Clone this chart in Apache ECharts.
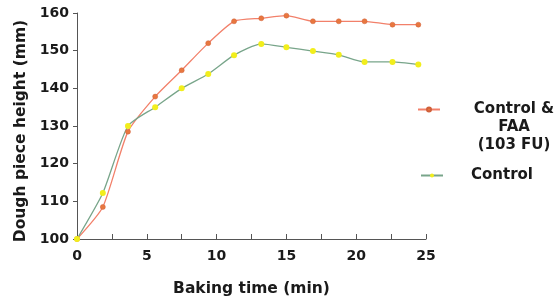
<!DOCTYPE html>
<html>
<head>
<meta charset="utf-8">
<script src="https://cdn.jsdelivr.net/npm/echarts@6/dist/echarts.min.js"></script>
<style>
  html, body { margin: 0; padding: 0; background: #fff; }
  #chart { width: 554px; height: 300px; }
</style>
</head>
<body>
<div id="chart"></div>
<script>
// baking time (min)
var times = [0, 1.85, 3.65, 5.6, 7.5, 9.4, 11.25, 13.2, 15, 16.9, 18.75, 20.6, 22.6, 24.45];
// dough piece height (mm)
var faaHeight = [100, 108.5, 128.5, 137.8, 144.8, 152, 157.8, 158.6, 159.3, 157.8, 157.8, 157.8, 156.9, 156.9];
var controlHeight = [100, 112.2, 130, 135, 140, 143.8, 148.8, 151.8, 150.9, 149.9, 148.9, 147, 147, 146.3];
var faaName = 'Control & FAA (103 FU)';
var controlName = 'Control';

function pairs(xs, ys) {
  var out = [];
  for (var i = 0; i < xs.length; i++) {
    out.push([xs[i], ys[i]]);
  }
  return out;
}

var font = 'DejaVu Sans';
var myChart = echarts.init(document.getElementById('chart'));

var option = {
  animation: false,
  grid: { left: 77, right: 128, top: 13, bottom: 61, outerBoundsMode: 'none', containLabel: false },
  legend: [{
    data: [faaName],
    left: 412,
    top: 97,
    itemWidth: 22,
    itemHeight: 5,
    selectedMode: false,
    formatter: function () {
      return '{a|Control &}\n{a|FAA}\n{a|(103 FU)}';
    },
    textStyle: {
      padding: [36, 0, 0, 23],
      rich: {
        a: { width: 92, align: 'center', fontFamily: font, fontWeight: 'bold', fontSize: 15, color: '#1a1a1a', lineHeight: 18 }
      }
    }
  }, {
    data: [controlName],
    left: 415,
    top: 163,
    itemWidth: 22,
    itemHeight: 5,
    selectedMode: false,
    textStyle: {
      padding: [0, 0, 4, 23],
      fontFamily: font, fontWeight: 'bold', fontSize: 15, color: '#1a1a1a'
    }
  }],
  xAxis: {
    type: 'value',
    min: 0,
    max: 25,
    interval: 2.5,
    name: 'Baking time (min)',
    nameLocation: 'middle',
    nameGap: 42,
    nameTextStyle: { fontFamily: font, fontWeight: 'bold', fontSize: 15.5, color: '#1a1a1a' },
    axisLine: { onZero: false, lineStyle: { color: '#555', width: 1 } },
    axisTick: { inside: true, length: 5, lineStyle: { color: '#555' } },
    axisLabel: {
      margin: 10,
      fontFamily: font, fontWeight: 'bold', fontSize: 14, color: '#1a1a1a',
      formatter: function (v) { return v % 5 === 0 ? String(v) : ''; }
    },
    splitLine: { show: false }
  },
  yAxis: {
    type: 'value',
    min: 100,
    max: 160,
    interval: 10,
    name: 'Dough piece height (mm)',
    nameLocation: 'middle',
    nameGap: 45,
    nameTextStyle: { fontFamily: font, fontWeight: 'bold', fontSize: 15.5, color: '#1a1a1a', padding: [0, 10, 0, 0] },
    axisLine: { show: true, lineStyle: { color: '#555', width: 1 } },
    axisTick: { show: true, length: 4, lineStyle: { color: '#555' } },
    axisLabel: { margin: 8, fontFamily: font, fontWeight: 'bold', fontSize: 14, color: '#1a1a1a' },
    splitLine: { show: false }
  },
  series: [{
    name: faaName,
    type: 'line',
    smooth: 0.2,
    data: pairs(times, faaHeight),
    symbol: 'circle',
    symbolSize: 5,
    lineStyle: { color: '#f2806a', width: 1.3 },
    itemStyle: { color: '#e8773f', borderColor: '#d0603a', borderWidth: 0.5 }
  }, {
    name: controlName,
    type: 'line',
    smooth: 0.2,
    data: pairs(times, controlHeight),
    symbol: 'circle',
    symbolSize: 6,
    lineStyle: { color: '#78a58a', width: 1.3 },
    itemStyle: { color: '#f2ee1c', borderWidth: 0 }
  }]
};

myChart.setOption(option);
</script>
</body>
</html>
